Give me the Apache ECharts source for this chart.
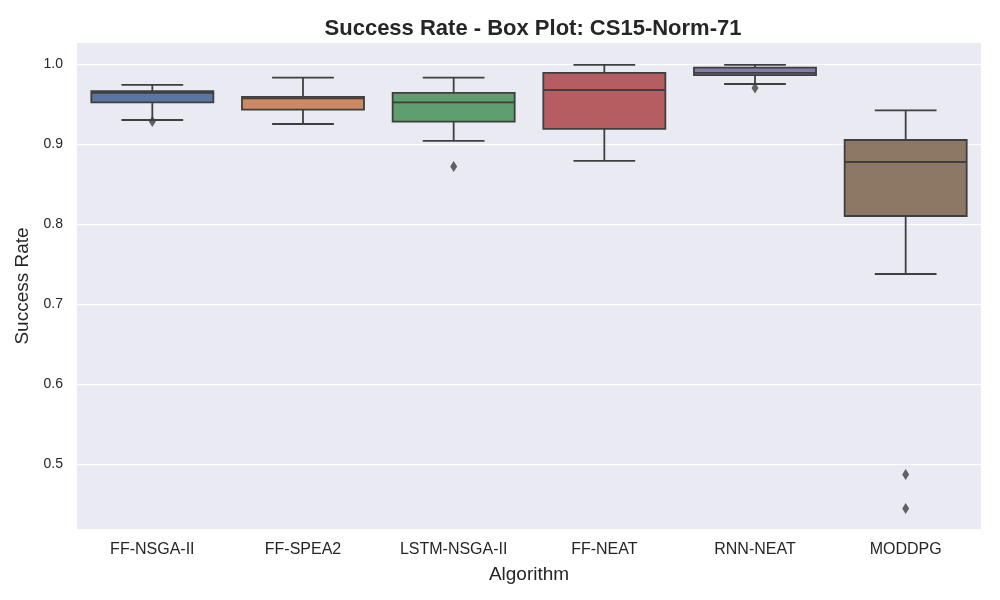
<!DOCTYPE html>
<html>
<head>
<meta charset="utf-8">
<script src="https://cdn.jsdelivr.net/npm/echarts@6/dist/echarts.min.js"></script>
<style>
  html, body { margin: 0; padding: 0; background: #fff; }
  #main { width: 1000px; height: 600px; }
</style>
</head>
<body>
<div id="main"></div>
<script>
var algorithms = ['FF-NSGA-II', 'FF-SPEA2', 'LSTM-NSGA-II', 'FF-NEAT', 'RNN-NEAT', 'MODDPG'];
var whiskerLow = [0.930, 0.925, 0.904, 0.879, 0.975, 0.7375];
var q1 = [0.952, 0.943, 0.928, 0.919, 0.986, 0.810];
var medians = [0.964, 0.957, 0.952, 0.9675, 0.989, 0.8775];
var q3 = [0.966, 0.959, 0.964, 0.989, 0.9954, 0.905];
var whiskerHigh = [0.974, 0.983, 0.983, 0.999, 0.9988, 0.942];
// outliers: [algorithm index, value]
var outliers = [[0, 0.928], [2, 0.872], [4, 0.970], [5, 0.487], [5, 0.4445]];
var yTicks = [0.5, 0.6, 0.7, 0.8, 0.9, 1.0];

var boxColors = ['#5875a4', '#cc8963', '#5f9e6e', '#b55d60', '#857aab', '#8d7866'];
var lineColor = '#3f3f3f';
var fontFamily = '"Liberation Sans", Arial, sans-serif';

var boxData = algorithms.map(function (name, i) {
  return [i, whiskerLow[i], q1[i], medians[i], q3[i], whiskerHigh[i]];
});

function renderBox(params, api) {
  var idx = api.value(0);
  var band = api.size([1, 0])[0];
  var half = band * 0.405;
  var cap = band * 0.205;
  var pLow = api.coord([idx, api.value(1)]);
  var pQ1 = api.coord([idx, api.value(2)]);
  var pMed = api.coord([idx, api.value(3)]);
  var pQ3 = api.coord([idx, api.value(4)]);
  var pHigh = api.coord([idx, api.value(5)]);
  var x = pQ1[0];
  var ls = { stroke: lineColor, lineWidth: 1.8 };
  return {
    type: 'group',
    children: [
      { type: 'line', shape: { x1: x, y1: pQ1[1], x2: x, y2: pLow[1] }, style: ls },
      { type: 'line', shape: { x1: x, y1: pQ3[1], x2: x, y2: pHigh[1] }, style: ls },
      { type: 'line', shape: { x1: x - cap, y1: pLow[1], x2: x + cap, y2: pLow[1] }, style: ls },
      { type: 'line', shape: { x1: x - cap, y1: pHigh[1], x2: x + cap, y2: pHigh[1] }, style: ls },
      { type: 'rect', shape: { x: x - half, y: pQ3[1], width: half * 2, height: pQ1[1] - pQ3[1] },
        style: { fill: boxColors[idx], stroke: lineColor, lineWidth: 1.8 } },
      { type: 'line', shape: { x1: x - half, y1: pMed[1], x2: x + half, y2: pMed[1] }, style: ls }
    ]
  };
}

var chart = echarts.init(document.getElementById('main'));
chart.setOption({
  backgroundColor: '#ffffff',
  animation: false,
  title: {
    text: 'Success Rate - Box Plot: CS15-Norm-71',
    left: 528,
    top: 13,
    textAlign: 'center',
    textStyle: { fontFamily: fontFamily, fontSize: 22, fontWeight: 'bold', color: '#262626' }
  },
  grid: { left: 77, right: 19, top: 43, bottom: 71, show: true, backgroundColor: '#eaeaf2', borderWidth: 0 },
  xAxis: {
    type: 'category',
    data: algorithms,
    name: 'Algorithm',
    nameLocation: 'middle',
    nameGap: 36,
    nameTextStyle: { fontFamily: fontFamily, fontSize: 19, color: '#262626' },
    axisLine: { show: false },
    axisTick: { show: false },
    axisLabel: { fontFamily: fontFamily, fontSize: 16, color: '#262626', margin: 13 },
    splitLine: { show: false }
  },
  yAxis: {
    type: 'value',
    min: 0.41875,
    max: 1.02625,
    name: 'Success Rate',
    nameLocation: 'middle',
    nameGap: 42,
    nameTextStyle: { fontFamily: fontFamily, fontSize: 19, color: '#262626' },
    axisLine: { show: false },
    axisTick: { show: false, customValues: yTicks },
    axisLabel: {
      customValues: yTicks,
      fontFamily: fontFamily, fontSize: 14, color: '#262626', margin: 14,
      formatter: function (v) { return v.toFixed(1); }
    },
    splitLine: { show: true, lineStyle: { color: '#ffffff', width: 1.2 } }
  },
  series: [
    {
      type: 'custom',
      renderItem: renderBox,
      encode: { x: 0, y: [1, 2, 3, 4, 5] },
      data: boxData,
      z: 2
    },
    {
      type: 'scatter',
      data: outliers,
      symbol: 'diamond',
      symbolSize: [7, 11],
      itemStyle: { color: lineColor },
      z: 3
    }
  ]
});
</script>
</body>
</html>
